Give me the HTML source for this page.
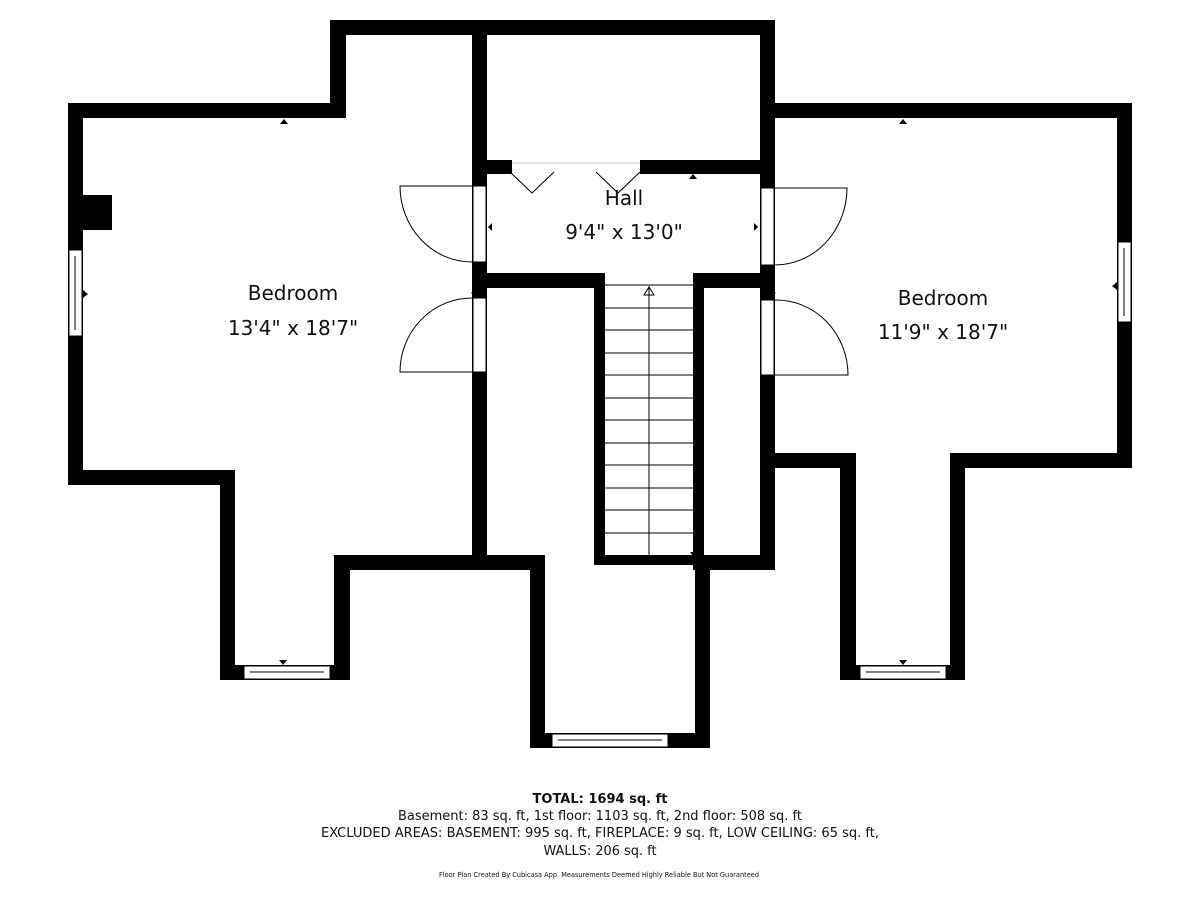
<!DOCTYPE html>
<html><head><meta charset="utf-8"><style>
html,body{margin:0;padding:0;background:#fff;}
svg{display:block;}
text{font-family:"DejaVu Sans","Liberation Sans",sans-serif;fill:#111;}
</style></head><body>
<svg width="1200" height="900" viewBox="0 0 1200 900" xmlns="http://www.w3.org/2000/svg">
<g fill="#000">
<rect x="330" y="20" width="445" height="15"/>
<rect x="330" y="20" width="16" height="98"/>
<rect x="68" y="103" width="278" height="15"/>
<rect x="68" y="103" width="15" height="382"/>
<rect x="68" y="470" width="167" height="15"/>
<rect x="220" y="470" width="15" height="210"/>
<rect x="220" y="665" width="129" height="15"/>
<rect x="334" y="555" width="16" height="125"/>
<rect x="334" y="555" width="211" height="15"/>
<rect x="83" y="195" width="29" height="35"/>
<rect x="472" y="20" width="15" height="550"/>
<rect x="530" y="555" width="15" height="193"/>
<rect x="530" y="733" width="180" height="15"/>
<rect x="695" y="555" width="15" height="193"/>
<rect x="695" y="555" width="80" height="15"/>
<rect x="760" y="20" width="15" height="550"/>
<rect x="472" y="160" width="40" height="14"/>
<rect x="640" y="160" width="135" height="14"/>
<rect x="472" y="273" width="133" height="15"/>
<rect x="695" y="273" width="80" height="15"/>
<rect x="594" y="273" width="11" height="292"/>
<rect x="594" y="555" width="110" height="10"/>
<rect x="693" y="273" width="11" height="297"/>
<rect x="760" y="103" width="372" height="15"/>
<rect x="1117" y="103" width="15" height="365"/>
<rect x="950" y="453" width="182" height="15"/>
<rect x="950" y="453" width="15" height="227"/>
<rect x="840" y="665" width="125" height="15"/>
<rect x="840" y="453" width="16" height="227"/>
<rect x="760" y="453" width="96" height="15"/>
</g>
<g fill="#fff" stroke="#000" stroke-width="1">
<rect x="473" y="186" width="13" height="76"/>
<rect x="473" y="298" width="13" height="74"/>
<rect x="761" y="188" width="13" height="77"/>
<rect x="761" y="300" width="13" height="75"/>
<rect x="69" y="250" width="13" height="86"/>
<rect x="1118" y="242" width="13" height="80"/>
<rect x="244" y="666" width="86" height="13"/>
<rect x="552" y="734" width="116" height="13"/>
<rect x="860" y="666" width="86" height="13"/>
</g>
<g stroke="#000" stroke-width="1" fill="none">
<line x1="75" y1="256" x2="75" y2="330"/>
<line x1="1124" y1="248" x2="1124" y2="316"/>
<line x1="250" y1="672" x2="324" y2="672"/>
<line x1="558" y1="740" x2="662" y2="740"/>
<line x1="866" y1="672" x2="940" y2="672"/>
<path d="M472 186 H400 A72 76 0 0 0 472 262"/>
<path d="M472 298 A72 74 0 0 0 400 372 H472"/>
<path d="M775 188 H847 A72 77 0 0 1 775 265"/>
<path d="M775 300 A72 75 0 0 1 848 375 H775"/>
<line x1="512" y1="163" x2="640" y2="163" stroke="#ccc"/>
<path d="M510 172 L532 193 L554 172"/>
<path d="M596 172 L618 193 L640 172"/>
<g stroke-width="1">
<line x1="605" y1="285" x2="693" y2="285"/>
<line x1="605" y1="308" x2="693" y2="308"/>
<line x1="605" y1="330" x2="693" y2="330"/>
<line x1="605" y1="353" x2="693" y2="353"/>
<line x1="605" y1="375" x2="693" y2="375"/>
<line x1="605" y1="398" x2="693" y2="398"/>
<line x1="605" y1="420" x2="693" y2="420"/>
<line x1="605" y1="443" x2="693" y2="443"/>
<line x1="605" y1="465" x2="693" y2="465"/>
<line x1="605" y1="488" x2="693" y2="488"/>
<line x1="605" y1="510" x2="693" y2="510"/>
<line x1="605" y1="533" x2="693" y2="533"/>
<line x1="649" y1="286" x2="649" y2="555"/>
<path d="M649 287 L644 295 L654 295 Z"/>
</g>
</g>
<g fill="#000">
<path d="M284 119 l-4 5 h8z"/>
<path d="M903 119 l-4 5 h8z"/>
<path d="M693 174 l-4 5 h8z"/>
<path d="M88 294 l-5 -4 v8z"/>
<path d="M1112 286 l5 -4 v8z"/>
<path d="M283 665 l-4 -5 h8z"/>
<path d="M903 665 l-4 -5 h8z"/>
<path d="M488 227 l4 -4 v8z"/>
<path d="M758 227 l-4 -4 v8z"/>
<path d="M471 293 l5 -4 v8z"/>
<path d="M776 293 l-5 -4 v8z"/>
<path d="M690 552 l4 0 l-1 4z"/>
</g>
<text x="293" y="300" font-size="20" text-anchor="middle">Bedroom</text>
<text x="293" y="335" font-size="20" text-anchor="middle">13'4" x 18'7"</text>
<text x="943" y="305" font-size="20" text-anchor="middle">Bedroom</text>
<text x="943" y="339" font-size="20" text-anchor="middle">11'9" x 18'7"</text>
<text x="624" y="205" font-size="20" text-anchor="middle">Hall</text>
<text x="624" y="239" font-size="20" text-anchor="middle">9'4" x 13'0"</text>
<text x="600" y="803" font-size="13" font-weight="bold" text-anchor="middle">TOTAL: 1694 sq. ft</text>
<text x="600" y="820" font-size="13" text-anchor="middle" textLength="404" lengthAdjust="spacingAndGlyphs">Basement: 83 sq. ft, 1st floor: 1103 sq. ft, 2nd floor: 508 sq. ft</text>
<text x="600" y="837" font-size="13" text-anchor="middle" textLength="558" lengthAdjust="spacingAndGlyphs">EXCLUDED AREAS: BASEMENT: 995 sq. ft, FIREPLACE: 9 sq. ft, LOW CEILING: 65 sq. ft,</text>
<text x="600" y="855" font-size="13" text-anchor="middle" textLength="113" lengthAdjust="spacingAndGlyphs">WALLS: 206 sq. ft</text>
<text x="599" y="877" font-size="7" text-anchor="middle" textLength="320" lengthAdjust="spacingAndGlyphs">Floor Plan Created By Cubicasa App. Measurements Deemed Highly Reliable But Not Guaranteed</text>
</svg>
</body></html>
